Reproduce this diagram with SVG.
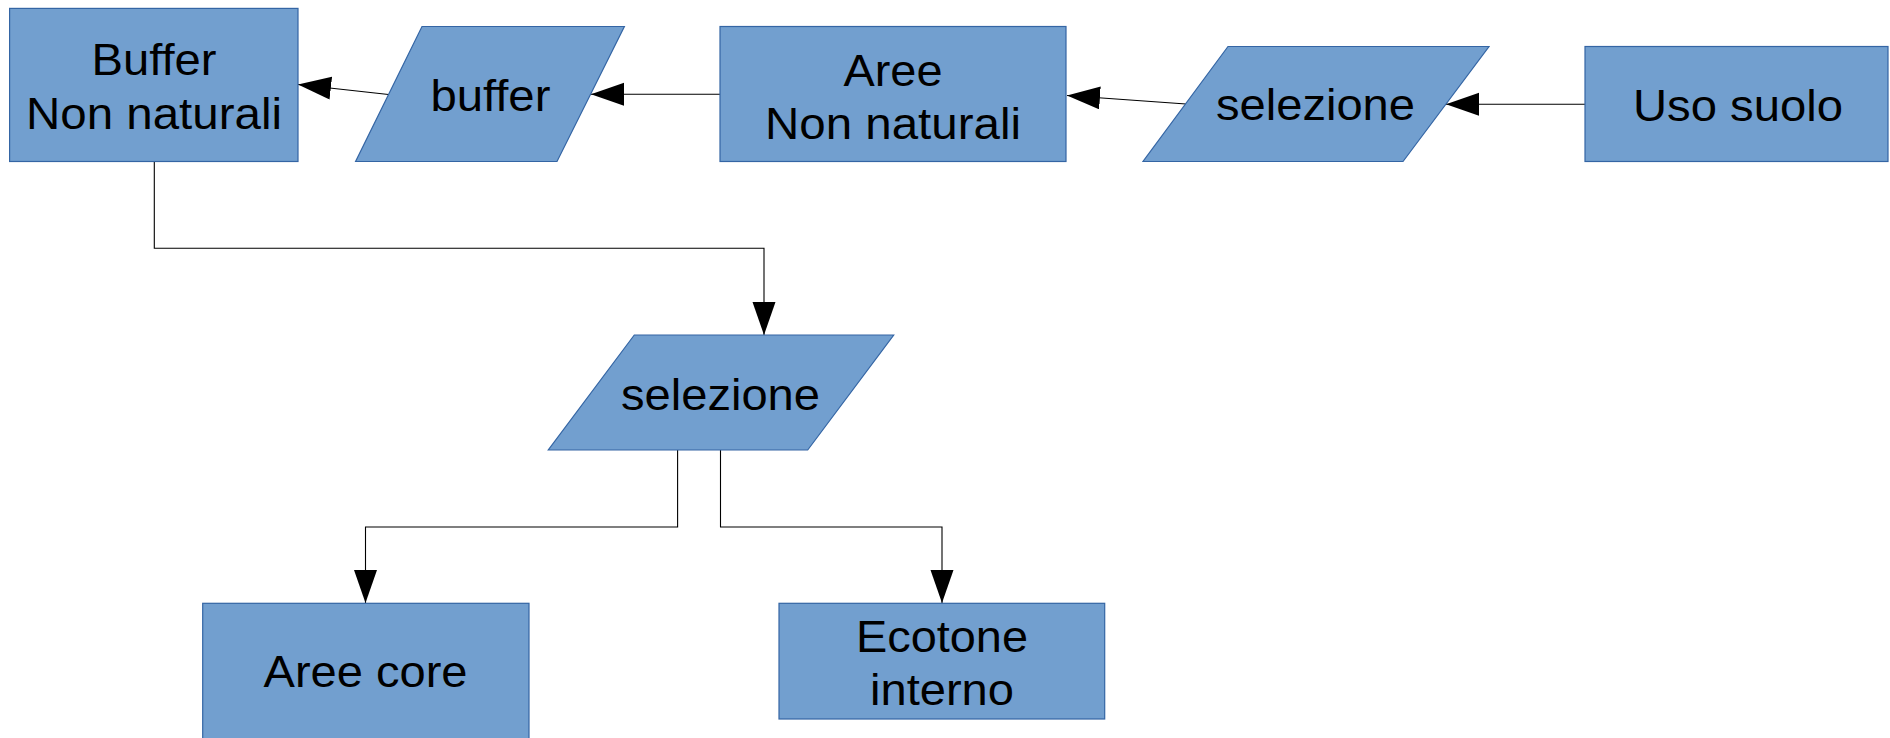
<svg xmlns="http://www.w3.org/2000/svg" width="1890" height="738" viewBox="0 0 1890 738">
  <style>
    .shape { fill: #729fcf; stroke: #3465a4; stroke-width: 1.2; }
    .label { font-family: "Liberation Sans", Arial, sans-serif; font-size: 44px; fill: #000; text-anchor: middle; }
    .conn { fill: none; stroke: #000; stroke-width: 1.1; }
  </style>
  <defs>
    <marker id="arrow" markerUnits="userSpaceOnUse" markerWidth="34" markerHeight="24" refX="33" refY="11.5" orient="auto">
      <path d="M0,0 L33,11.5 L0,23 z" fill="#000"/>
    </marker>
  </defs>
  <rect width="1890" height="738" fill="#ffffff"/>

  <g id="connectors">
    <path class="conn" d="M1585,104.3 L1446,104.3" marker-end="url(#arrow)"/>
    <path class="conn" d="M1186,104 L1067,95.5" marker-end="url(#arrow)"/>
    <path class="conn" d="M720,94.3 L591,94.3" marker-end="url(#arrow)"/>
    <path class="conn" d="M388.5,94.5 L298,84.5" marker-end="url(#arrow)"/>
    <path class="conn" d="M154.3,161.5 V248.3 H764 V335" marker-end="url(#arrow)"/>
    <path class="conn" d="M677.6,450 V527 H365.5 V603" marker-end="url(#arrow)"/>
    <path class="conn" d="M720.5,450 V527 H942 V603" marker-end="url(#arrow)"/>
  </g>

  <g id="node-buffer-non-naturali">
    <rect class="shape" x="9.6" y="8.4" width="288.4" height="153.1"/>
    <text class="label" x="154" y="75" textLength="125" lengthAdjust="spacingAndGlyphs">Buffer</text>
    <text class="label" x="154" y="129" textLength="256" lengthAdjust="spacingAndGlyphs">Non naturali</text>
  </g>

  <g id="node-buffer">
    <polygon class="shape" points="422,26.5 624.4,26.5 557,161.5 355.6,161.5"/>
    <text class="label" x="490.4" y="111" textLength="120" lengthAdjust="spacingAndGlyphs">buffer</text>
  </g>

  <g id="node-aree-non-naturali">
    <rect class="shape" x="720" y="26.5" width="346" height="135"/>
    <text class="label" x="893" y="85.5" textLength="99" lengthAdjust="spacingAndGlyphs">Aree</text>
    <text class="label" x="893" y="139" textLength="256" lengthAdjust="spacingAndGlyphs">Non naturali</text>
  </g>

  <g id="node-selezione-1">
    <polygon class="shape" points="1228,46.5 1489,46.5 1403,161.5 1143,161.5"/>
    <text class="label" x="1315.5" y="120" textLength="199" lengthAdjust="spacingAndGlyphs">selezione</text>
  </g>

  <g id="node-uso-suolo">
    <rect class="shape" x="1585" y="46.5" width="303" height="115"/>
    <text class="label" x="1738" y="120.5" textLength="210" lengthAdjust="spacingAndGlyphs">Uso suolo</text>
  </g>

  <g id="node-selezione-2">
    <polygon class="shape" points="634.3,335 893.7,335 807.7,450 548.3,450"/>
    <text class="label" x="720.5" y="410" textLength="199" lengthAdjust="spacingAndGlyphs">selezione</text>
  </g>

  <g id="node-aree-core">
    <rect class="shape" x="202.7" y="603.3" width="326.3" height="136"/>
    <text class="label" x="365.5" y="687" textLength="204" lengthAdjust="spacingAndGlyphs">Aree core</text>
  </g>

  <g id="node-ecotone-interno">
    <rect class="shape" x="779" y="603.3" width="325.7" height="115.7"/>
    <text class="label" x="942" y="651.5" textLength="172" lengthAdjust="spacingAndGlyphs">Ecotone</text>
    <text class="label" x="942" y="705" textLength="144" lengthAdjust="spacingAndGlyphs">interno</text>
  </g>
</svg>
